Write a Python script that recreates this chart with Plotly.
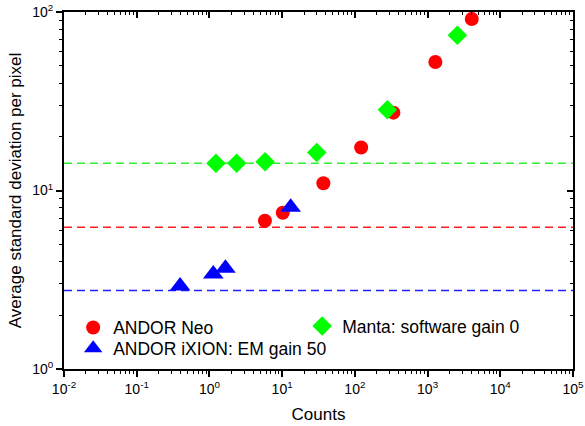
import plotly.graph_objects as go

# ANDOR Neo
neo_x = [5.8, 10.2, 36.9, 122, 339, 1280, 4055]
neo_y = [6.77, 7.51, 10.97, 17.4, 27.3, 52.5, 91.4]
# ANDOR iXION: EM gain 50
ix_x = [0.395, 1.13, 1.66, 13.1]
ix_y = [2.92, 3.41, 3.67, 8.05]
# Manta: software gain 0
man_x = [1.23, 2.37, 5.82, 29.9, 280, 2570]
man_y = [14.2, 14.2, 14.5, 16.3, 28.3, 74.0]
# read-noise floors (dashed lines)
floor_vals = [6.22, 14.2, 2.75]
floor_cols = ["#ff2020", "#33ee33", "#2020ff"]

xticks = [1e-2, 1e-1, 1e0, 1e1, 1e2, 1e3, 1e4, 1e5]
xtext = ["10<sup>-2</sup>", "10<sup>-1</sup>", "10<sup>0</sup>", "10<sup>1</sup>",
         "10<sup>2</sup>", "10<sup>3</sup>", "10<sup>4</sup>", "10<sup>5</sup>"]
yticks = [1, 10, 100]
ytext = ["10<sup>0</sup>", "10<sup>1</sup>", "10<sup>2</sup>"]

xminor = [m * 10.0 ** e for e in range(-2, 5) for m in range(2, 10)]
yminor = [m * 10.0 ** e for e in range(0, 2) for m in range(2, 10)]

fig = go.Figure()
fig.add_trace(go.Scatter(x=neo_x, y=neo_y, mode="markers", name="ANDOR Neo", legend="legend",
                         marker=dict(symbol="circle", size=14, color="#ff0000")))
fig.add_trace(go.Scatter(x=ix_x, y=ix_y, mode="markers", name="ANDOR iXION: EM gain 50",
                         legend="legend2",
                         marker=dict(symbol="triangle-up", size=18, color="#0000ff")))
fig.add_trace(go.Scatter(x=man_x, y=man_y, mode="markers", name="Manta: software gain 0",
                         legend="legend3",
                         marker=dict(symbol="diamond", size=15, color="#00ff00")))

for v, c in zip(floor_vals, floor_cols):
    fig.add_shape(type="line", xref="paper", x0=0, x1=1, yref="y", y0=v, y1=v,
                  line=dict(color=c, width=1.5, dash="8px,5px"), layer="below")

font = dict(family="Liberation Sans, Arial, sans-serif", size=14, color="black")

def minor(vals, direction):
    return dict(tickmode="array", tickvals=vals, ticks=direction, ticklen=3,
                tickwidth=1, tickcolor="black")

common = dict(showline=True, linecolor="black", linewidth=2, showgrid=False,
              zeroline=False, automargin=False, tickwidth=1.5, tickcolor="black", ticklen=6)

def leg(x, y):
    return dict(x=x, y=y, xanchor="left", yanchor="middle", bgcolor="rgba(0,0,0,0)",
                font=dict(size=17.5), itemwidth=30)

fig.update_layout(
    width=585, height=426,
    margin=dict(l=64, r=12, t=12, b=57),
    paper_bgcolor="white", plot_bgcolor="white",
    font=font,
    showlegend=True,
    legend=leg(0.018, 0.116),
    legend2=leg(0.018, 0.058),
    legend3=leg(0.468, 0.120),
    xaxis=dict(type="log", range=[-2, 5], tickmode="array", tickvals=xticks, ticktext=xtext,
               ticks="outside", minor=minor(xminor, "outside"),
               title=dict(text="Counts", font=dict(size=17), standoff=12), **common),
    yaxis=dict(type="log", range=[0, 2], tickmode="array", tickvals=yticks, ticktext=ytext,
               ticks="outside", minor=minor(yminor, "outside"),
               title=dict(text="Average standard deviation per pixel", font=dict(size=17),
                          standoff=6), **common),
    xaxis2=dict(type="log", range=[-2, 5], overlaying="x", side="top", anchor="y",
                tickmode="array", tickvals=xticks, showticklabels=False, ticks="inside",
                minor=minor(xminor, "inside"), **common),
    yaxis2=dict(type="log", range=[0, 2], overlaying="y", side="right", anchor="x",
                tickmode="array", tickvals=yticks, showticklabels=False, ticks="inside",
                minor=minor(yminor, "inside"), **common),
)
fig.add_trace(go.Scatter(x=[None], y=[None], xaxis="x2", yaxis="y2", showlegend=False,
                         hoverinfo="skip"))

fig.write_html("out.html", config={"displayModeBar": False},
               post_script="document.body.style.margin='0';")
